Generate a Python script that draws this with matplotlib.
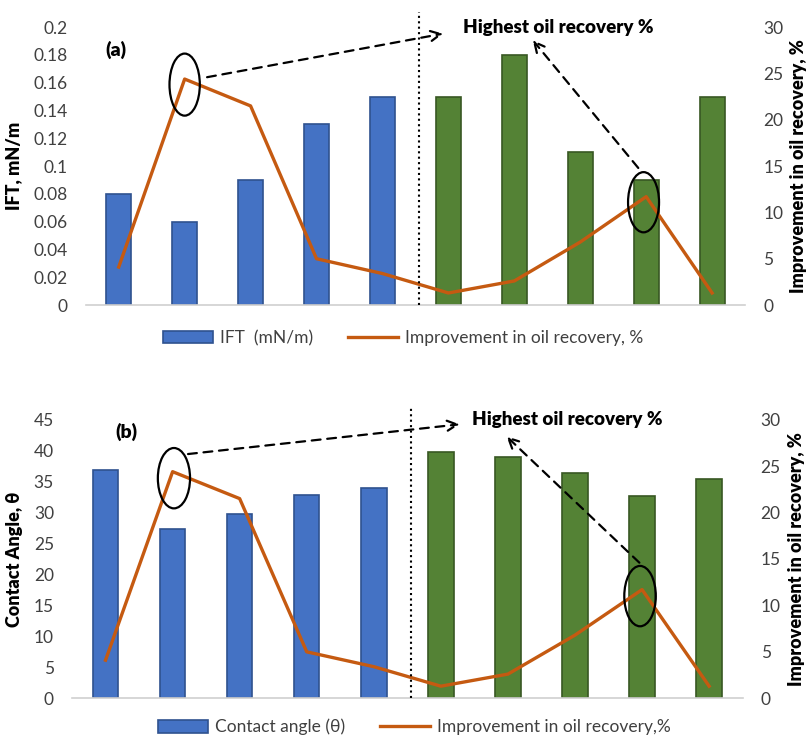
import matplotlib
matplotlib.use("Agg")
import matplotlib.pyplot as plt
from matplotlib.patches import Ellipse, Patch
from matplotlib.lines import Line2D

plt.rcParams['font.family'] = ['Lato', 'DejaVu Sans']

# Data
samples = list(range(10))
ift = [0.08, 0.06, 0.09, 0.13, 0.15, 0.15, 0.18, 0.11, 0.09, 0.15]
contact_angle = [36.8, 27.3, 29.8, 32.8, 33.9, 39.7, 38.9, 36.4, 32.6, 35.4]
oil_improvement = [4.1, 24.4, 21.5, 5.0, 3.4, 1.3, 2.6, 6.8, 11.7, 1.3]
bar_colors = ['#4472C4'] * 5 + ['#548235'] * 5
edge_colors = ['#2F528F'] * 5 + ['#385723'] * 5

ORANGE = '#C55A11'
TICK_GREY = '#404040'
BOLD = 'heavy'
fig = plt.figure(figsize=(8.09, 7.35), dpi=100)


def panel(rect, values, ylim, yticks, yticklabels, ylabel, tag, tag_xy,
          split_top, ell1, ell2, arr1, arr2, text_xy, legend_label,
          legend_center, oil_label):
    ax = fig.add_axes(rect)
    ax.bar(samples, values, width=0.38, color=bar_colors,
           edgecolor=edge_colors, linewidth=1.2, zorder=2)
    ax.set_xlim(-0.5, 9.5)
    ax.set_ylim(*ylim)
    ax.set_yticks(yticks)
    ax.set_yticklabels(yticklabels)
    ax.set_xticks([])
    for s in ['top', 'right', 'left']:
        ax.spines[s].set_visible(False)
    ax.spines['bottom'].set_color('#D0D0D0')
    ax.spines['bottom'].set_linewidth(1.2)
    ax.tick_params(axis='y', length=0, pad=13, labelsize=12.5, colors=TICK_GREY)
    ax.set_ylabel(ylabel, fontsize=13, fontweight=BOLD, labelpad=8)
    ax.text(*tag_xy, tag, transform=ax.transData, fontsize=14,
            fontweight=BOLD, ha='left', va='center')

    ax2 = ax.twinx()
    ax2.plot(samples, oil_improvement, color=ORANGE, linewidth=2.4, zorder=3)
    ax2.set_ylim(0, 30)
    ax2.set_yticks([0, 5, 10, 15, 20, 25, 30])
    for s in ['top', 'right', 'left', 'bottom']:
        ax2.spines[s].set_visible(False)
    ax2.tick_params(axis='y', length=0, pad=13, labelsize=12.5, colors=TICK_GREY)
    ax2.set_ylabel('Improvement in oil recovery, %', fontsize=13,
                   fontweight=BOLD, labelpad=5)

    # separator between the two sample groups
    ax2.plot([4.55, 4.55], [0, split_top], color='black', linestyle=(0, (1, 1.6)),
             linewidth=1.5, clip_on=False, zorder=4)

    for (cx, cy, w, h) in (ell1, ell2):
        ax2.add_patch(Ellipse((cx, cy), w, h, fill=False, edgecolor='black',
                              linewidth=1.6, zorder=5, clip_on=False))

    for (start, end) in (arr1, arr2):
        ax2.annotate('', xy=end, xytext=start, xycoords='data',
                     textcoords='data', annotation_clip=False,
                     arrowprops=dict(arrowstyle='->', linestyle=(0, (4, 3)),
                                     color='black', lw=1.6,
                                     mutation_scale=18, shrinkA=0, shrinkB=0))
    ax2.text(*text_xy, 'Highest oil recovery %', fontsize=13.5,
             fontweight=BOLD, ha='left', va='center', clip_on=False)

    handles = [Patch(facecolor='#4472C4', edgecolor='#2F528F', linewidth=1.2),
               Line2D([0], [0], color=ORANGE, linewidth=2.4)]
    fig.legend(handles, [legend_label, oil_label], loc='center',
               bbox_to_anchor=legend_center, ncol=2, frameon=False,
               fontsize=12.5, handlelength=2.9, handleheight=0.75,
               columnspacing=2.0, handletextpad=0.4, labelcolor=TICK_GREY)
    return ax, ax2


panel([0.106, 0.585, 0.815, 0.378], ift, (0, 0.2),
      [0, 0.02, 0.04, 0.06, 0.08, 0.1, 0.12, 0.14, 0.16, 0.18, 0.2],
      ['0', '0.02', '0.04', '0.06', '0.08', '0.1', '0.12', '0.14', '0.16',
       '0.18', '0.2'],
      'IFT, mN/m', '(a)', (-0.2, 0.1835), 31.6,
      (1.0, 23.8, 0.46, 6.7), (7.96, 11.1, 0.47, 6.5),
      ((1.34, 24.6), (4.92, 29.3)), ((7.88, 14.8), (6.28, 28.6)),
      (5.22, 30.0), 'IFT  (mN/m)', (0.498, 0.540),
      'Improvement in oil recovery, %')

panel([0.089, 0.050, 0.829, 0.379], contact_angle, (0, 45),
      [0, 5, 10, 15, 20, 25, 30, 35, 40, 45],
      ['0', '5', '10', '15', '20', '25', '30', '35', '40', '45'],
      'Contact Angle, θ', '(b)', (0.15, 43.0), 31.4,
      (1.02, 23.7, 0.48, 6.5), (7.97, 11.0, 0.47, 6.5),
      ((1.23, 26.3), (5.28, 29.5)), ((7.96, 14.6), (5.98, 28.2)),
      (5.46, 30.0), 'Contact angle (θ)', (0.512, 0.011),
      'Improvement in oil recovery,%')

fig.savefig('out.png', dpi=100)
